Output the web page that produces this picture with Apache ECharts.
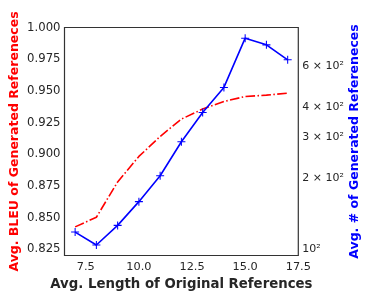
<!DOCTYPE html>
<html>
<head>
<meta charset="utf-8">
<script src="https://cdn.jsdelivr.net/npm/echarts@6/dist/echarts.min.js"></script>
<style>html,body{margin:0;padding:0;background:#fff;}#c{width:371px;height:300px;}</style>
</head>
<body>
<div id="c"></div>
<script>
var lengths = [7, 8, 9, 10, 11, 12, 13, 14, 15, 16, 17];
var bleu = [0.8426, 0.8502, 0.8781, 0.8982, 0.9140, 0.9277, 0.9356, 0.9416, 0.9455, 0.9466, 0.9482];
var numRefs = [118, 104, 126, 159, 205, 286, 381, 487, 789, 739, 638];
var xTicks = [7.5, 10.0, 12.5, 15.0, 17.5];
var leftTicks = [0.825, 0.850, 0.875, 0.900, 0.925, 0.950, 0.975, 1.000];
var rightTicks = [100, 200, 300, 400, 600];
var rightTickLabels = ['10²', '2 × 10²', '3 × 10²', '4 × 10²', '6 × 10²'];

var font = 'DejaVu Sans';
var txt = '#262626';
var plus = 'path://M-0.13,-1H0.13V-0.13H1V0.13H0.13V1H-0.13V0.13H-1V-0.13H-0.13Z';

var chart = echarts.init(document.getElementById('c'), null, {renderer: 'canvas'});
chart.setOption({
  animation: false,
  textStyle: {fontFamily: font},
  grid: {left: 64.5, right: 72.7, top: 27.5, bottom: 44.5, outerBoundsMode: 'none', containLabel: false,
    show: true, borderColor: '#333', borderWidth: 1.2, backgroundColor: 'transparent'},
  xAxis: {
    type: 'value', min: 6.5, max: 17.5,
    name: 'Avg. Length of Original References', nameLocation: 'middle', nameGap: 22.5, nameMoveOverlap: false,
    nameTextStyle: {fontFamily: font, fontWeight: 'bold', fontSize: 13.3, color: txt},
    axisLine: {show: false}, axisTick: {show: false}, splitLine: {show: false},
    axisLabel: {customValues: xTicks, fontFamily: font, fontSize: 11.3, color: txt, margin: 6,
      formatter: function (v) { return v.toFixed(1); }}
  },
  yAxis: [{
    type: 'value', min: 0.82, max: 1.0, position: 'left',
    name: 'Avg. BLEU of Generated Refereneces', nameLocation: 'middle', nameGap: 43, nameRotate: 90, nameMoveOverlap: false,
    nameTextStyle: {fontFamily: font, fontWeight: 'bold', fontSize: 12.5, color: '#ff0000'},
    axisLine: {show: false}, axisTick: {show: false}, splitLine: {show: false},
    axisLabel: {customValues: leftTicks, fontFamily: font, fontSize: 11.7, color: txt, margin: 4,
      formatter: function (v) { return v.toFixed(3); }}
  }, {
    type: 'log', min: 93.8, max: 876, position: 'right',
    name: 'Avg. # of Generated Refereneces', nameLocation: 'middle', nameGap: 50, nameRotate: 90, nameMoveOverlap: false,
    nameTextStyle: {fontFamily: font, fontWeight: 'bold', fontSize: 12.5, color: '#0000ff'},
    axisLine: {show: false}, axisTick: {show: false}, splitLine: {show: false}, minorTick: {show: false},
    axisLabel: {customValues: rightTicks, fontFamily: font, fontSize: 11, color: txt, margin: 4,
      formatter: function (v) { var i = rightTicks.indexOf(Math.round(v)); return i >= 0 ? rightTickLabels[i] : ''; }}
  }],
  series: [{
    type: 'line', yAxisIndex: 0,
    data: lengths.map(function (x, i) { return [x, bleu[i]]; }),
    showSymbol: false, symbol: 'none',
    lineStyle: {color: '#ff0000', width: 1.6, type: [9.6, 2.4, 1.5, 2.4]}
  }, {
    type: 'line', yAxisIndex: 1,
    data: lengths.map(function (x, i) { return [x, numRefs[i]]; }),
    symbol: plus, symbolSize: 8,
    itemStyle: {color: '#0000ff'},
    lineStyle: {color: '#0000ff', width: 1.6}
  }]
});
</script>
</body>
</html>
